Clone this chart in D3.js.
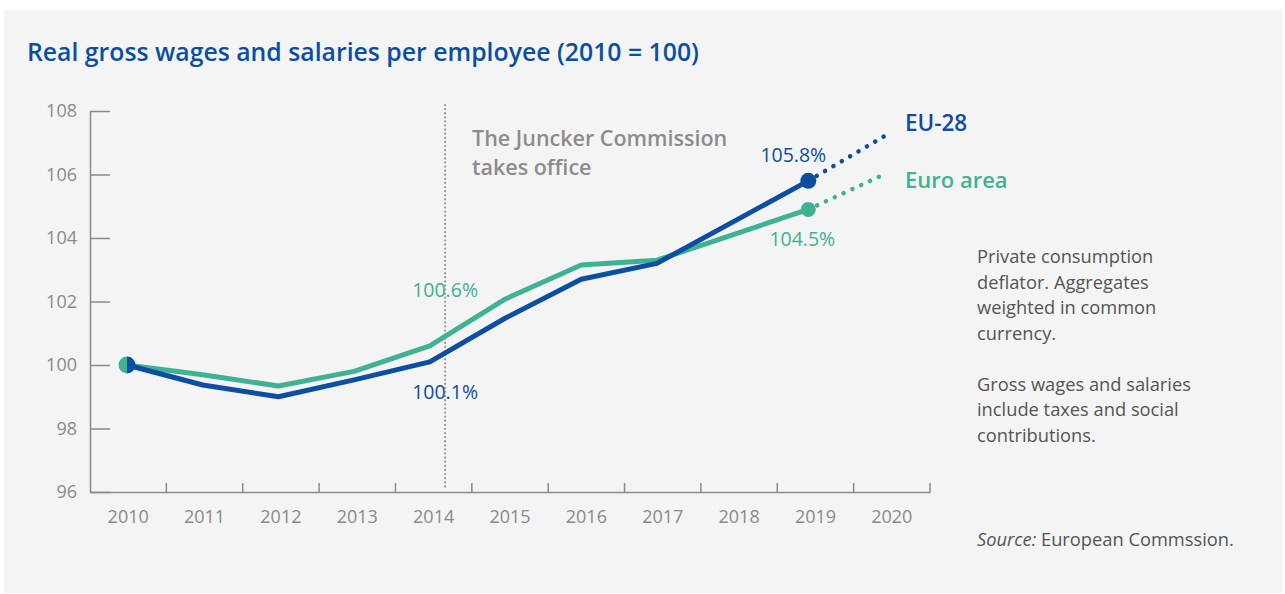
<!DOCTYPE html>
<meta charset="utf-8">
<script src="https://d3js.org/d3.v7.min.js"></script>
<style>
  body { margin: 0; background: #fff; }
  text { font-family: "Open Sans", sans-serif; }
</style>
<div id="chart"></div>
<script>

// data
var years = [2010, 2011, 2012, 2013, 2014, 2015, 2016, 2017, 2018, 2019, 2020];
var eu28 = [100, 99.37, 99.0, 99.53, 100.1, 101.48, 102.7, 103.2, 104.5, 105.8];
var euroArea = [100, 99.69, 99.34, 99.8, 100.6, 102.08, 103.15, 103.3, 104.1, 104.9];
var eu28Proj = [105.8, 107.2];      // 2019 -> 2020
var euroAreaProj = [104.9, 106.0];  // 2019 -> 2020
var yTicks = [96, 98, 100, 102, 104, 106, 108];
var notes = ["Private consumption", "deflator. Aggregates", "weighted in common", "currency.", "",
             "Gross wages and salaries", "include taxes and social", "contributions."];

var blue = "#0b4ea2", green = "#3fb292", grey = "#8a8a8a";

var W = 1285, H = 594;
var svg = d3.select("#chart").append("svg")
    .attr("width", W).attr("height", H);

// panel background
svg.append("rect")
  .attr("x", 4).attr("y", 10)
  .attr("width", 1278).attr("height", 583)
  .attr("fill", "#f4f4f4");

// title
svg.append("text")
  .attr("x", 27).attr("y", 61)
  .attr("font-size", "24.8px")
  .attr("font-weight", 600)
  .attr("fill", blue)
  .text("Real gross wages and salaries per employee (2010 = 100)");

// scales
var xBand = d3.scaleBand().domain(years).range([90, 930]).padding(0);
var x = d3.scalePoint().domain(years).range([127, 884]);
var y = d3.scaleLinear().domain([96, 108]).range([492, 111]);

// y axis, ticks pointing inward
var yAxis = svg.append("g")
  .attr("transform", "translate(90,0)")
  .call(d3.axisLeft(y).tickValues(yTicks).tickSize(-20).tickSizeOuter(0).tickPadding(13));
yAxis.select(".domain").attr("stroke", grey).attr("stroke-width", 1.5);
yAxis.selectAll(".tick line").attr("stroke", grey).attr("stroke-width", 1.5);
yAxis.selectAll(".tick text")
  .attr("fill", grey)
  .attr("font-size", "18px")
  .style("font-family", "'Open Sans', sans-serif");

// x axis: labels centred in bands, tick marks at band boundaries
var xAxis = svg.append("g")
  .attr("transform", "translate(0,492)")
  .call(d3.axisBottom(xBand).tickSize(0).tickPadding(18));
xAxis.select(".domain").attr("stroke", grey).attr("stroke-width", 1.5);
xAxis.selectAll(".tick text")
  .attr("fill", grey)
  .attr("font-size", "18px")
  .style("font-family", "'Open Sans', sans-serif");
svg.selectAll(".xbound")
  .data(years)
  .enter().append("line")
    .attr("class", "xbound")
    .attr("x1", function(d) { return xBand(d) + xBand.bandwidth(); })
    .attr("x2", function(d) { return xBand(d) + xBand.bandwidth(); })
    .attr("y1", 492).attr("y2", 483)
    .attr("stroke", grey).attr("stroke-width", 1.5);

// Juncker marker (between 2014 and 2015)
var jx = xBand(2014) + xBand.bandwidth() * 0.65;
svg.append("line")
  .attr("x1", jx).attr("x2", jx)
  .attr("y1", 105).attr("y2", 490)
  .attr("stroke", "#999")
  .attr("stroke-width", 2.2)
  .attr("stroke-dasharray", "0.1 4")
  .attr("stroke-linecap", "round");

svg.append("text")
  .attr("x", 472).attr("y", 146)
  .attr("font-size", "21.5px").attr("font-weight", 600)
  .attr("fill", "#8c8c8c")
  .text("The Juncker Commission");
svg.append("text")
  .attr("x", 472).attr("y", 175)
  .attr("font-size", "21.5px").attr("font-weight", 600)
  .attr("fill", "#8c8c8c")
  .text("takes office");

var line = d3.line()
  .x(function(d, i) { return x(years[i]); })
  .y(function(d) { return y(d); });

// projections (dotted)
var projLine = d3.line()
  .x(function(d, i) { return x(years[9 + i]); })
  .y(function(d) { return y(d); });

svg.append("path")
  .datum(euroAreaProj)
  .attr("d", projLine)
  .attr("fill", "none")
  .attr("stroke", green).attr("stroke-width", 4.5)
  .attr("stroke-linecap", "round")
  .attr("stroke-dasharray", "0.1 9.6");
svg.append("path")
  .datum(eu28Proj)
  .attr("d", projLine)
  .attr("fill", "none")
  .attr("stroke", blue).attr("stroke-width", 4.5)
  .attr("stroke-linecap", "round")
  .attr("stroke-dasharray", "0.1 9.6");

// main lines
svg.append("path")
  .datum(euroArea)
  .attr("d", line)
  .attr("fill", "none")
  .attr("stroke", green).attr("stroke-width", 5)
  .attr("stroke-linejoin", "round");
svg.append("path")
  .datum(eu28)
  .attr("d", line)
  .attr("fill", "none")
  .attr("stroke", blue).attr("stroke-width", 5)
  .attr("stroke-linejoin", "round");

// end points
svg.append("circle")
  .attr("cx", x(2019)).attr("cy", y(euroArea[9]))
  .attr("r", 7.5).attr("fill", green);
svg.append("circle")
  .attr("cx", x(2019)).attr("cy", y(eu28[9]))
  .attr("r", 8).attr("fill", blue);

// start point: half green, half blue
var sx = x(2010), sy = y(eu28[0]);
var arc = d3.arc().innerRadius(0).outerRadius(8.5);
svg.append("path")
  .attr("transform", "translate(" + sx + "," + sy + ")")
  .attr("d", arc({startAngle: Math.PI, endAngle: 2 * Math.PI}))
  .attr("fill", green);
svg.append("path")
  .attr("transform", "translate(" + sx + "," + sy + ")")
  .attr("d", arc({startAngle: 0, endAngle: Math.PI}))
  .attr("fill", blue);

// value labels
function valueLabel(txt, cx, cy, col) {
  svg.append("text")
    .attr("x", cx).attr("y", cy)
    .attr("text-anchor", "middle")
    .attr("font-size", "19.5px")
    .attr("fill", col)
    .text(txt);
}
valueLabel("105.8%", x(2019) - 15, y(eu28[9]) - 19, blue);
valueLabel("104.5%", x(2019) - 6, y(euroArea[9]) + 37, green);
valueLabel("100.6%", jx, y(euroArea[4]) - 49, green);
valueLabel("100.1%", jx, y(eu28[4]) + 37, blue);

// series labels
svg.append("text")
  .attr("x", 905).attr("y", 131)
  .attr("font-size", "22.5px").attr("font-weight", 600)
  .attr("fill", blue)
  .text("EU-28");
svg.append("text")
  .attr("x", 905).attr("y", 188)
  .attr("font-size", "22px").attr("font-weight", 600)
  .attr("fill", green)
  .text("Euro area");

// notes
svg.selectAll(".note")
  .data(notes)
  .enter().append("text")
    .attr("class", "note")
    .attr("x", 977)
    .attr("y", function(d, i) { return 263 + i * 25.5; })
    .attr("font-size", "18.3px")
    .attr("fill", "#555")
    .text(function(d) { return d; });

var src = svg.append("text")
  .attr("x", 977).attr("y", 546)
  .attr("font-size", "18.3px")
  .attr("fill", "#555");
src.append("tspan").attr("font-style", "italic").text("Source:");
src.append("tspan").text(" European Commssion.");

</script>
